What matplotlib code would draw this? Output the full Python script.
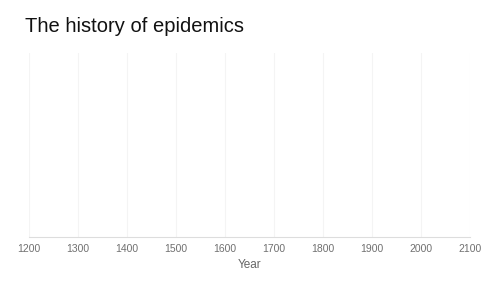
import matplotlib.pyplot as plt

# Axis setup for an empty timeline chart
title = "The history of epidemics"
x_label = "Year"
tick_years = [1200, 1300, 1400, 1500, 1600, 1700, 1800, 1900, 2000, 2100]
x_range = [1200, 2100]

plt.rcParams['font.family'] = ['Liberation Sans', 'DejaVu Sans']

fig = plt.figure(figsize=(5, 2.82), dpi=100)
ax = fig.add_axes([0.058, 0.160, 0.882, 0.652])

ax.set_xlim(x_range)
ax.set_ylim(0, 1)
ax.set_xticks(tick_years)
ax.set_xticklabels([str(y) for y in tick_years], fontsize=7.5, color="#707070")
ax.tick_params(axis="x", length=0, pad=5)
ax.set_yticks([])
ax.grid(axis="x", color="#f4f4f4", linewidth=0.8)

for side in ["top", "right", "left"]:
    ax.spines[side].set_visible(False)
ax.spines["bottom"].set_color("#dddddd")
ax.spines["bottom"].set_linewidth(0.8)

ax.set_xlabel(x_label, fontsize=8.5, color="#666666", labelpad=4)
fig.text(0.05, 0.905, title, fontsize=14.5, color="#111111", va="center", ha="left",
         fontweight="medium")

fig.savefig("out.png", dpi=100, facecolor="white")
